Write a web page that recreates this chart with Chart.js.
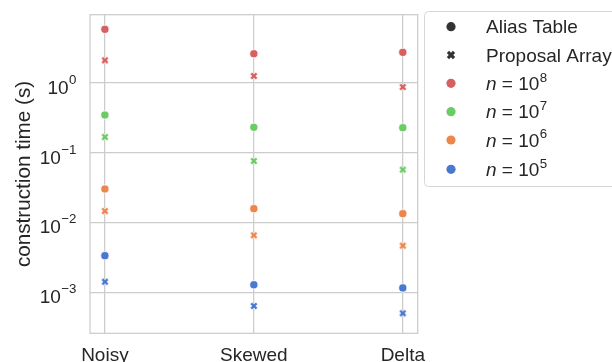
<!DOCTYPE html>
<html>
<head>
<meta charset="utf-8">
<script src="https://cdn.jsdelivr.net/npm/chart.js@4/dist/chart.umd.min.js"></script>
<style>
  html, body { margin: 0; padding: 0; background: #ffffff; }
  #wrap { width: 612px; height: 362px; }
</style>
</head>
<body>
<div id="wrap"><canvas id="c" width="612" height="362"></canvas></div>
<script>
// Distributions on the x axis
const categories = ['Noisy', 'Skewed', 'Delta'];
// Problem sizes n = 10^k, largest first
const sizeExponents = [8, 7, 6, 5];
const sizeColors = ['#d65f5f', '#6acc64', '#ee854a', '#4878d0'];

// Alias Table construction time (s)
const alias1e8 = [5.85, 2.62, 2.74];
const alias1e7 = [0.349, 0.233, 0.230];
const alias1e6 = [0.0306, 0.0160, 0.0136];
const alias1e5 = [0.00341, 0.00131, 0.00118];

// Proposal Array construction time (s)
const proposal1e8 = [2.11, 1.26, 0.877];
const proposal1e7 = [0.169, 0.0769, 0.0578];
const proposal1e6 = [0.0148, 0.00667, 0.00474];
const proposal1e5 = [0.00145, 0.000652, 0.000513];

// Decade tick exponents on the y axis
const yTickExponents = [0, -1, -2, -3];
const yTitle = 'construction time (s)';

const FONT = "'Liberation Sans', Arial, sans-serif";
const TEXT = '#262626';
const GRID = '#cccccc';

const aliasSeries = [alias1e8, alias1e7, alias1e6, alias1e5];
const proposalSeries = [proposal1e8, proposal1e7, proposal1e6, proposal1e5];

const toPoints = vals => vals.map((v, i) => ({ x: i, y: v }));

// Filled "X" shape: a plus sign rotated by 45 degrees
function xPath(ctx, cx, cy, a, w) {
  const pts = [[w, a], [w, w], [a, w], [a, -w], [w, -w], [w, -a],
               [-w, -a], [-w, -w], [-a, -w], [-a, w], [-w, w], [-w, a]];
  const c = Math.SQRT1_2;
  ctx.beginPath();
  pts.forEach(([px, py], i) => {
    const rx = cx + (px - py) * c, ry = cy + (px + py) * c;
    if (i === 0) ctx.moveTo(rx, ry); else ctx.lineTo(rx, ry);
  });
  ctx.closePath();
}

function makeXMarker(color) {
  const cv = document.createElement('canvas');
  cv.width = 12; cv.height = 12;
  const g = cv.getContext('2d');
  xPath(g, 6, 6, 4.0, 1.35);
  g.fillStyle = color;
  g.fill();
  g.strokeStyle = '#ffffff';
  g.lineWidth = 0.6;
  g.stroke();
  return cv;
}

const datasets = [];
sizeExponents.forEach((e, k) => {
  datasets.push({
    label: 'Alias Table n=1e' + e,
    data: toPoints(aliasSeries[k]),
    pointStyle: 'circle',
    pointRadius: 4.1,
    pointBackgroundColor: sizeColors[k],
    pointBorderColor: '#ffffff',
    pointBorderWidth: 0.8
  });
  datasets.push({
    label: 'Proposal Array n=1e' + e,
    data: toPoints(proposalSeries[k]),
    pointStyle: makeXMarker(sizeColors[k]),
    pointRadius: 4
  });
});

// Draws a base with a raised exponent, aligned by its right or left edge
function drawPower(ctx, base, exp, x, y, size, supSize, rise, align) {
  ctx.font = size + 'px ' + FONT;
  const wb = ctx.measureText(base).width;
  ctx.font = supSize + 'px ' + FONT;
  const ws = ctx.measureText(exp).width;
  const x0 = align === 'right' ? x - wb - ws : x;
  ctx.textAlign = 'left';
  ctx.textBaseline = 'alphabetic';
  ctx.font = size + 'px ' + FONT;
  ctx.fillText(base, x0, y);
  ctx.font = supSize + 'px ' + FONT;
  ctx.fillText(exp, x0 + wb + 0.5, y - rise);
}

const decorations = {
  id: 'decorations',
  afterDraw(chart) {
    const ctx = chart.ctx;
    const area = chart.chartArea;
    const xs = chart.scales.x, ys = chart.scales.y;
    ctx.save();

    // frame around the plot
    ctx.strokeStyle = GRID;
    ctx.lineWidth = 1.25;
    ctx.strokeRect(area.left, area.top, area.right - area.left, area.bottom - area.top);

    ctx.fillStyle = TEXT;

    // y tick labels 10^k
    yTickExponents.forEach(e => {
      const py = ys.getPixelForValue(Math.pow(10, e));
      const expText = e < 0 ? '\u2212' + (-e) : String(e);
      drawPower(ctx, '10', expText, 76, py + 10.5, 19, 13.3, 10, 'right');
    });

    // x category labels
    ctx.font = '19px ' + FONT;
    ctx.textAlign = 'center';
    ctx.textBaseline = 'alphabetic';
    categories.forEach((c, i) => {
      ctx.fillText(c, xs.getPixelForValue(i), 361);
    });

    // y axis title
    ctx.save();
    ctx.translate(30, (area.top + area.bottom) / 2);
    ctx.rotate(-Math.PI / 2);
    ctx.font = '20.7px ' + FONT;
    ctx.textAlign = 'center';
    ctx.textBaseline = 'alphabetic';
    ctx.fillText(yTitle, 0, 0);
    ctx.restore();

    // legend
    const lx = 424.5, ly = 11.5, lw = 260, lh = 175;
    ctx.beginPath();
    ctx.roundRect(lx, ly, lw, lh, 4);
    ctx.fillStyle = 'rgba(255,255,255,0.85)';
    ctx.fill();
    ctx.strokeStyle = '#d6d6d6';
    ctx.lineWidth = 1;
    ctx.stroke();

    const rows = [26.7, 55, 83.3, 111.7, 140, 169.3];
    const mx = 451, tx = 486;
    const dark = '#333333';

    // marker-style entries
    ctx.fillStyle = dark;
    ctx.beginPath();
    ctx.arc(mx, rows[0], 4.6, 0, Math.PI * 2);
    ctx.fill();
    xPath(ctx, mx, rows[1], 4.3, 1.6);
    ctx.fill();

    ctx.fillStyle = TEXT;
    ctx.font = '19px ' + FONT;
    ctx.textAlign = 'left';
    ctx.textBaseline = 'alphabetic';
    ctx.fillText('Alias Table', tx, rows[0] + 6.7);
    ctx.fillText('Proposal Array', tx, rows[1] + 6.7);

    // size entries
    sizeExponents.forEach((e, k) => {
      const ry = rows[k + 2];
      ctx.fillStyle = sizeColors[k];
      ctx.beginPath();
      ctx.arc(mx, ry, 4.6, 0, Math.PI * 2);
      ctx.fill();
      ctx.fillStyle = TEXT;
      ctx.font = 'italic 19px ' + FONT;
      ctx.textAlign = 'left';
      ctx.fillText('n', tx, ry + 6.7);
      const wn = ctx.measureText('n').width;
      ctx.font = '19px ' + FONT;
      const eq = ' = ';
      ctx.fillText(eq, tx + wn, ry + 6.7);
      const we = ctx.measureText(eq).width;
      drawPower(ctx, '10', String(e), tx + wn + we, ry + 6.7, 19, 13.3, 8.5, 'left');
    });

    ctx.restore();
  }
};

new Chart(document.getElementById('c'), {
  type: 'scatter',
  data: { datasets },
  options: {
    responsive: false,
    animation: false,
    devicePixelRatio: 1,
    layout: { padding: { left: 90, right: 194.3, top: 14.7, bottom: 28.7 } },
    plugins: { legend: { display: false }, tooltip: { enabled: false } },
    scales: {
      x: {
        type: 'linear',
        min: -0.1,
        max: 2.1,
        afterBuildTicks: s => { s.ticks = categories.map((_, i) => ({ value: i })); },
        ticks: { display: false },
        grid: { color: GRID, lineWidth: 1.25, drawTicks: false },
        border: { display: false }
      },
      y: {
        type: 'logarithmic',
        min: Math.pow(10, -3.576),
        max: Math.pow(10, 0.976),
        afterBuildTicks: s => { s.ticks = yTickExponents.map(e => ({ value: Math.pow(10, e) })); },
        ticks: { display: false },
        grid: { color: GRID, lineWidth: 1.25, drawTicks: false },
        border: { display: false }
      }
    }
  },
  plugins: [decorations]
});
</script>
</body>
</html>
